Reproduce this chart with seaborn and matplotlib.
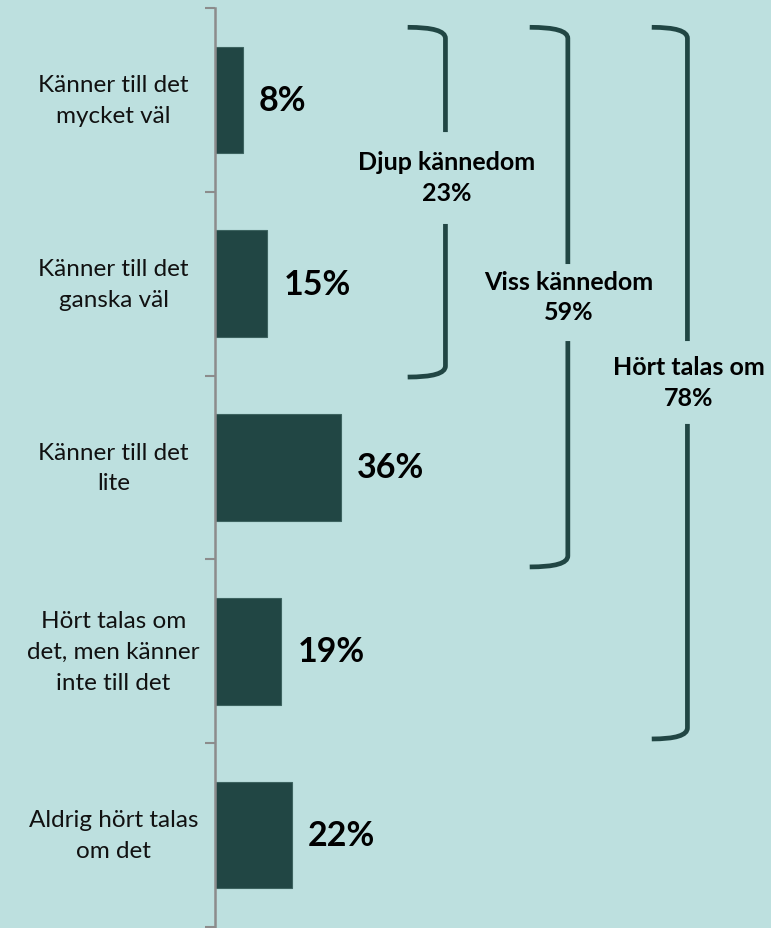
import numpy as np
import pandas as pd
import matplotlib.pyplot as plt
import seaborn as sns
from matplotlib.path import Path
from matplotlib.patches import PathPatch

# data
categories = ['Känner till det\nmycket väl', 'Känner till det\nganska väl', 'Känner till det\nlite',
              'Hört talas om\ndet, men känner\ninte till det', 'Aldrig hört talas\nom det']
values = [8, 15, 36, 19, 22]
groups = ['Djup kännedom', 'Viss kännedom', 'Hört talas om']
group_values = [23, 59, 78]

bg = '#bde0df'
dark = '#214644'

sns.set_style('white')
plt.rcParams['font.family'] = ['Lato', 'DejaVu Sans']

df = pd.DataFrame({'kat': categories, 'andel': values})

fig = plt.figure(figsize=(7.71, 9.29), dpi=100, facecolor=bg)
ax = fig.add_axes([215 / 771, 1 / 929, 556 / 771, 919 / 929])
ax.set_facecolor(bg)

sns.barplot(data=df, x='andel', y='kat', orient='h', color=dark, width=0.58,
            saturation=1, edgecolor='#3d6360', linewidth=0.8, ax=ax)

ax.set_xlim(0, 159)
ax.set_ylim(4.5, -0.5)
ax.set_xlabel('')
ax.set_ylabel('')
ax.set_xticks([])

# category labels, centred
ax.set_yticks(range(len(categories)))
ax.set_yticklabels([])
ax.tick_params(axis='y', which='major', length=0)
ax.set_yticks(np.arange(-0.5, len(categories), 1), minor=True)
ax.tick_params(axis='y', which='minor', left=True, length=7, width=1.5,
               color='#8c8c8c', direction='out')
for i, c in enumerate(categories):
    ax.text(-29, i, c, ha='center', va='center', fontsize=17.5, color='#111111',
            linespacing=1.58, transform=ax.transData)

for s in ['top', 'right', 'bottom']:
    ax.spines[s].set_visible(False)
ax.spines['left'].set_color('#8c8c8c')
ax.spines['left'].set_linewidth(1.8)

# value labels
for i, v in enumerate(values):
    ax.text(v + 4.6, i, f'{v}%', ha='left', va='center', fontsize=24.5,
            fontweight='bold', color='black')


# brackets
def bracket(x0, xv, ytop, ybot, gap0, gap1):
    r = 0.06
    verts = [(x0, ytop), (xv, ytop), (xv, ytop + r), (xv, gap0)]
    codes = [Path.MOVETO, Path.CURVE3, Path.CURVE3, Path.LINETO]
    p1 = Path(verts, codes)
    verts = [(xv, gap1), (xv, ybot - r), (xv, ybot), (x0, ybot)]
    codes = [Path.MOVETO, Path.LINETO, Path.CURVE3, Path.CURVE3]
    p2 = Path(verts, codes)
    for p in (p1, p2):
        ax.add_patch(PathPatch(p, facecolor='none', edgecolor=dark, lw=3.4,
                               capstyle='butt', clip_on=False))


br = [(55.1, 65.9, -0.395, 1.508, 0.175, 0.675, 0.419),
      (90.0, 100.9, -0.395, 2.541, 0.893, 1.312, 1.07),
      (124.9, 135.1, -0.395, 3.477, 1.312, 1.763, 1.535)]
for (x0, xv, yt, yb, g0, g1, ty), g, gv in zip(br, groups, group_values):
    bracket(x0, xv, yt, yb, g0, g1)
    ax.text(xv + 0.3, ty, f'{g}\n{gv}%', ha='center', va='center', fontsize=18,
            fontweight='bold', color='black', linespacing=1.4, clip_on=False)

plt.savefig('out.png', dpi=100, facecolor=bg)
